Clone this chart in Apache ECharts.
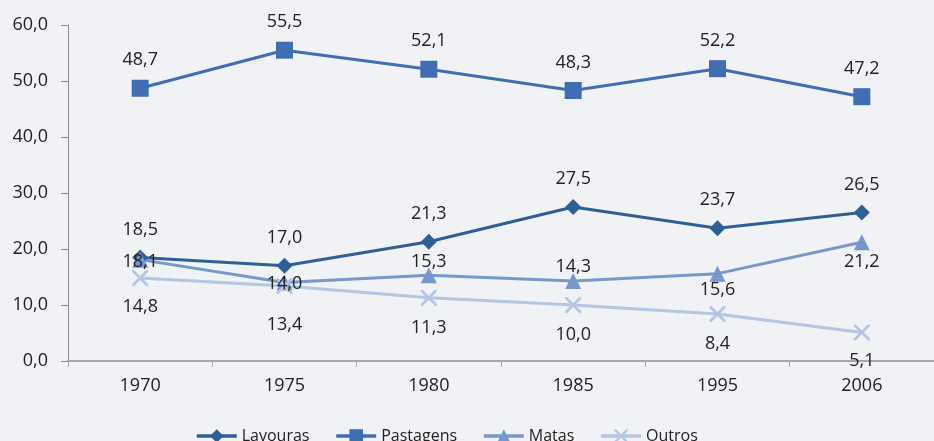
<!DOCTYPE html>
<html>
<head>
<meta charset="utf-8">
<script src="https://cdn.jsdelivr.net/npm/echarts@6/dist/echarts.min.js"></script>
<style>
  html, body { margin: 0; padding: 0; background: #f0f2f5; }
  #chart { width: 934px; height: 441px; }
</style>
</head>
<body>
<div id="chart"></div>
<script>
// Uso da terra nos estabelecimentos (%), por ano de censo
const anos = ['1970', '1975', '1980', '1985', '1995', '2006'];
const lavouras = [18.5, 17.0, 21.3, 27.5, 23.7, 26.5];
const pastagens = [48.7, 55.5, 52.1, 48.3, 52.2, 47.2];
const matas = [18.1, 14.0, 15.3, 14.3, 15.6, 21.2];
const outros = [14.8, 13.4, 11.3, 10.0, 8.4, 5.1];

// vertical offsets of the value labels, in pixels
const offLavouras = [-28, -28, -28, -28, -28, -28];
const offPastagens = [-28, -28, -28, -28, -28, -28];
const offMatas = [2, 1, -13, -14, 16, 20];
const offOutros = [29, 39, 30, 30, 30, 28];

const FONT = 'Open Sans';
const fmt = v => v.toFixed(1).replace('.', ',');

const crossPath = 'path://M0,0L1.2,0L5,3.8L8.8,0L10,0L10,1.2L6.2,5L10,8.8L10,10L8.8,10L5,6.2L1.2,10L0,10L0,8.8L3.8,5L0,1.2Z';

function serie(name, values, offsets, color, symbol, size) {
  return {
    name: name,
    type: 'line',
    data: values.map((v, i) => ({
      value: v,
      label: { offset: [0, offsets[i]] }
    })),
    symbol: symbol,
    symbolSize: size,
    showAllSymbol: true,
    lineStyle: { color: color, width: 3 },
    itemStyle: { color: color },
    label: {
      show: true,
      position: 'inside',
      color: '#222',
      fontFamily: FONT,
      fontSize: 18,
      formatter: p => fmt(p.value)
    },
    emphasis: { disabled: true },
    animation: false
  };
}

const chart = echarts.init(document.getElementById('chart'));
chart.setOption({
  backgroundColor: '#f0f2f5',
  animation: false,
  grid: { left: 68, top: 25, bottom: 80, right: -13, containLabel: false },
  legend: {
    bottom: -8,
    left: 190,
    itemWidth: 40,
    itemHeight: 17,
    itemGap: 25,
    lineStyle: { width: 3.5 },
    textStyle: { fontFamily: FONT, fontSize: 16, color: '#222' },
    data: ['Lavouras', 'Pastagens', 'Matas', 'Outros']
  },
  xAxis: {
    type: 'category',
    data: anos,
    boundaryGap: true,
    axisLine: { lineStyle: { color: '#a6a6a6', width: 2 } },
    axisTick: { show: true, length: 6, lineStyle: { color: '#a6a6a6', width: 1 } },
    axisLabel: { color: '#222', fontFamily: FONT, fontSize: 18, margin: 16 }
  },
  yAxis: {
    type: 'value',
    min: 0, max: 60, interval: 10,
    axisLine: { show: true, lineStyle: { color: '#8c8c8c', width: 1 } },
    axisTick: { show: true, length: 7, lineStyle: { color: '#8c8c8c' } },
    splitLine: { show: false },
    axisLabel: { color: '#222', fontFamily: FONT, fontSize: 18, margin: 20, formatter: v => fmt(v) }
  },
  series: [
    serie('Lavouras', lavouras, offLavouras, '#2f5f97', 'diamond', 16),
    serie('Pastagens', pastagens, offPastagens, '#3f6fb2', 'rect', 17),
    serie('Matas', matas, offMatas, '#7599cc', 'triangle', 16),
    serie('Outros', outros, offOutros, '#b4c6e2', crossPath, 16)
  ]
});
</script>
</body>
</html>
